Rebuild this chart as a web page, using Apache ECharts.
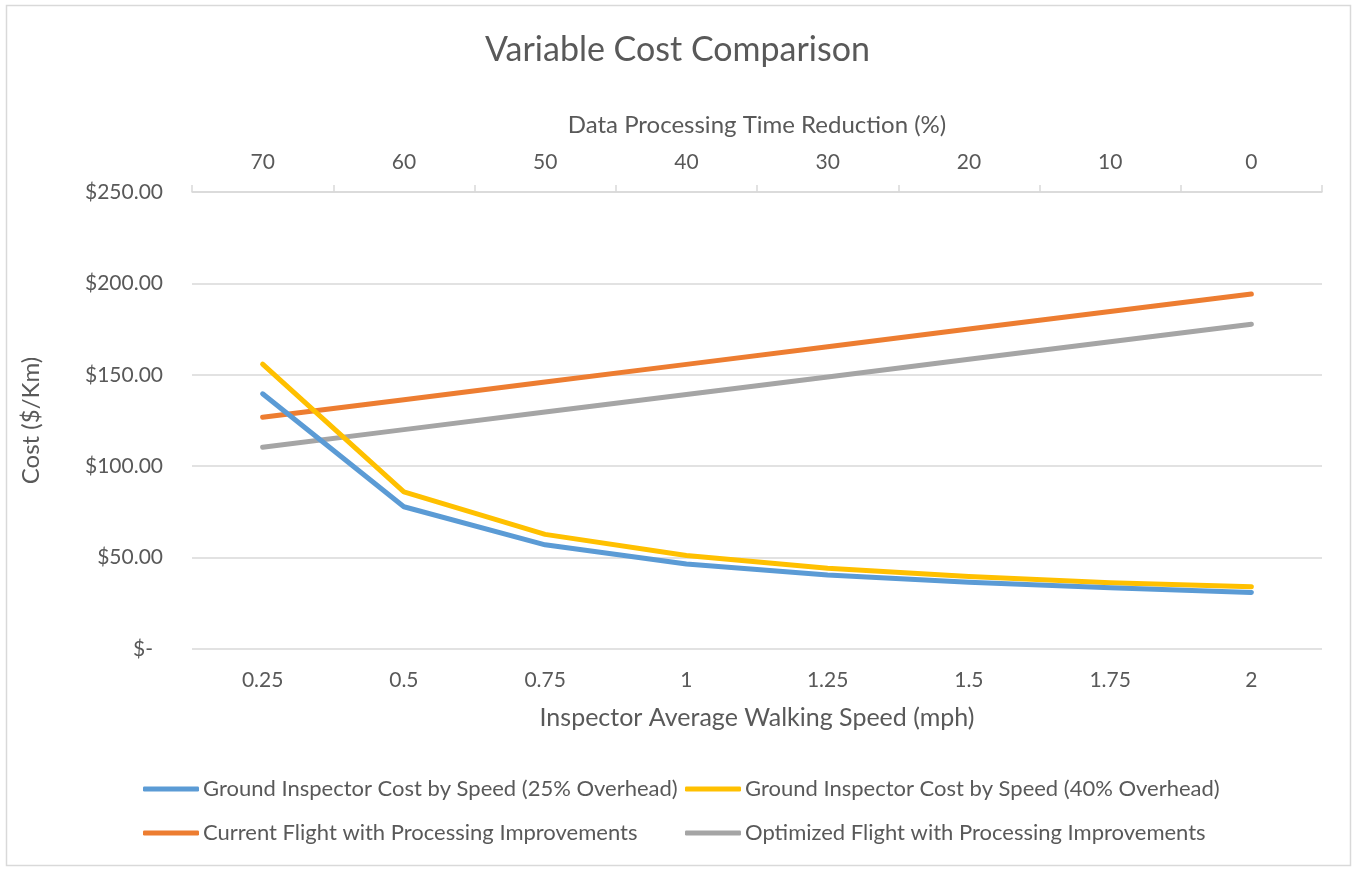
<!DOCTYPE html>
<html>
<head>
<meta charset="utf-8">
<script src="https://cdn.jsdelivr.net/npm/echarts@6/dist/echarts.min.js"></script>
<style>
html,body{margin:0;padding:0;background:#fff;}
#c{width:1355px;height:869px;}
</style>
</head>
<body>
<div id="c"></div>
<script>
const speeds = ['0.25','0.5','0.75','1','1.25','1.5','1.75','2'];
const reductions = ['70','60','50','40','30','20','10','0'];
const ground25 = [139.6, 77.8, 57.0, 46.5, 40.5, 36.5, 33.5, 30.9];
const ground40 = [155.8, 86.0, 62.7, 51.2, 44.2, 39.6, 36.2, 34.0];
const currentFlight = [126.8, 136.4, 146.1, 155.7, 165.3, 175.0, 184.6, 194.2];
const optimizedFlight = [110.4, 120.0, 129.6, 139.2, 148.8, 158.5, 168.1, 177.7];
const yTicks = {min: 0, max: 250, interval: 50};

const names = [
  'Ground Inspector Cost by Speed (25% Overhead)',
  'Ground Inspector Cost by Speed (40% Overhead)',
  'Current Flight with Processing Improvements',
  'Optimized Flight with Processing Improvements'
];
const colors = ['#5B9BD5', '#FFC000', '#ED7D31', '#A5A5A5'];
const seriesData = [ground25, ground40, currentFlight, optimizedFlight];

const FONT = 'Lato';
const TXT = '#595959';
const GRID = '#D9D9D9';

const chart = echarts.init(document.getElementById('c'), null, {renderer: 'canvas'});

const legendBase = {
  orient: 'vertical',
  top: 778,
  padding: 0,
  itemWidth: 56,
  itemHeight: 5,
  itemGap: 22,
  icon: 'roundRect',
  textStyle: {fontFamily: FONT, fontSize: 22, color: TXT, padding: [0,0,0,-1]}
};

chart.setOption({
  animation: false,
  backgroundColor: '#fff',
  textStyle: {fontFamily: FONT},
  graphic: [{
    type: 'rect',
    shape: {x: 6.5, y: 5.5, width: 1344, height: 860},
    style: {fill: 'none', stroke: GRID, lineWidth: 1.5},
    silent: true
  }],
  title: {
    text: 'Variable Cost Comparison',
    left: 'center',
    top: 28,
    textStyle: {fontFamily: FONT, fontSize: 34, fontWeight: 'normal', color: TXT}
  },
  legend: [
    Object.assign({}, legendBase, {left: 143, data: [names[0], names[2]]}),
    Object.assign({}, legendBase, {left: 685, data: [names[1], names[3]]})
  ],
  grid: {left: 192, right: 33, top: 192, bottom: 220, containLabel: false},
  xAxis: [{
    type: 'category',
    data: speeds,
    position: 'bottom',
    boundaryGap: true,
    axisLine: {show: false},
    axisTick: {show: false},
    axisLabel: {fontFamily: FONT, fontSize: 21, color: TXT, margin: 21},
    name: 'Inspector Average Walking Speed (mph)',
    nameLocation: 'middle',
    nameGap: 56,
    nameTextStyle: {fontFamily: FONT, fontSize: 25, color: TXT}
  }, {
    type: 'category',
    data: reductions,
    position: 'top',
    boundaryGap: true,
    axisLine: {show: true, lineStyle: {color: GRID, width: 1.5}},
    axisTick: {show: true, length: 7, inside: false, alignWithLabel: false, lineStyle: {color: GRID, width: 1.5}},
    axisLabel: {fontFamily: FONT, fontSize: 21, color: TXT, margin: 19},
    name: 'Data Processing Time Reduction (%)',
    nameLocation: 'middle',
    nameGap: 55,
    nameTextStyle: {fontFamily: FONT, fontSize: 24, color: TXT}
  }],
  yAxis: {
    type: 'value',
    min: yTicks.min,
    max: yTicks.max,
    interval: yTicks.interval,
    axisLine: {show: false},
    axisTick: {show: false},
    splitLine: {lineStyle: {color: GRID, width: 1.5}},
    axisLabel: {
      fontFamily: FONT, fontSize: 21, color: TXT, margin: 29,
      formatter: function (v) { return v === 0 ? '{z|$-}' : '$' + v.toFixed(2); },
      rich: {z: {fontFamily: FONT, fontSize: 21, color: TXT, padding: [0, 10, 0, 0]}}
    },
    name: 'Cost ($/Km)',
    nameLocation: 'middle',
    nameGap: 149,
    nameTextStyle: {fontFamily: FONT, fontSize: 24, color: TXT}
  },
  series: seriesData.map((d, i) => ({
    name: names[i],
    type: 'line',
    xAxisIndex: 0,
    data: d,
    symbol: 'none',
    showSymbol: false,
    itemStyle: {color: colors[i]},
    lineStyle: {color: colors[i], width: 5, cap: 'round', join: 'round'},
    z: i === 0 ? 4 : (i === 1 ? 3 : 2)
  }))
});
</script>
</body>
</html>
